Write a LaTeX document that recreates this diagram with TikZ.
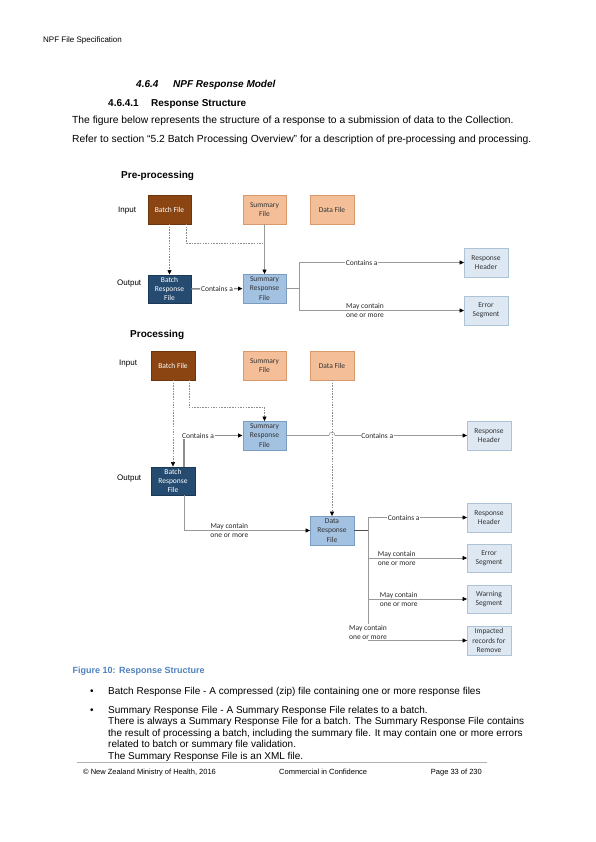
\documentclass[tikz,border=0pt]{standalone}
\usepackage{fontspec}
\setmainfont{Liberation Sans}
\newfontfamily\visfont{Carlito}
\usetikzlibrary{arrows.meta,shadows}

\definecolor{bfill}{HTML}{8A4513}
\definecolor{bdraw}{HTML}{6B350E}
\definecolor{ofill}{HTML}{F4BF98}
\definecolor{odraw}{HTML}{D8996C}
\definecolor{dfill}{HTML}{264B70}
\definecolor{ddraw}{HTML}{1B3855}
\definecolor{mfill}{HTML}{A3C1E0}
\definecolor{mdraw}{HTML}{7C9DC2}
\definecolor{sfill}{HTML}{DDE8F3}
\definecolor{sdraw}{HTML}{AFC3D6}
\definecolor{capblue}{HTML}{4F81BD}

\tikzstyle{fbox}=[shape=rectangle,
                minimum height=28.5pt,
                minimum width=43.5pt,
                inner sep=1pt,
                align=center,
                drop shadow={shadow xshift=0.7pt,shadow yshift=-0.7pt,fill=black!20},
                font=\visfont\fontsize{7.5}{9.3}\selectfont]
\tikzstyle{bfile}=[fbox,fill=bfill,draw=bdraw,text=white]
\tikzstyle{ofile}=[fbox,fill=ofill,draw=odraw,text=black!80]
\tikzstyle{rfile}=[fbox,fill=dfill,draw=ddraw,text=white]
\tikzstyle{mfile}=[fbox,fill=mfill,draw=mdraw,text=black!80]
\tikzstyle{seg}=[fbox,fill=sfill,draw=sdraw,text=black!80]
\tikzstyle{lbl}=[inner sep=0.8pt,
                align=center,
                text=black!85,
                font=\visfont\fontsize{7.5}{9}\selectfont]
\tikzstyle{lblw}=[lbl,fill=white]
\tikzstyle{txt}=[anchor=base west,inner sep=0pt,font=\fontsize{10}{11.5}\selectfont]
\tikzstyle{dl}=[draw=black!45,line width=0.5pt,dash pattern=on 1.5pt off 1.2pt]
\tikzstyle{ln}=[draw=black!40,line width=0.6pt]
\tikzstyle{dk}=[draw=black!70,line width=0.7pt]
\tikzstyle{tk}=[draw=black!45,line width=1.4pt]

\begin{document}
\begin{tikzpicture}[x=1pt,y=-1pt,>={Triangle[length=4.5pt,width=4pt,color=black]}]
\useasboundingbox (0,0) rectangle (596,842);

% page header and headings
\node[txt,font=\fontsize{8}{9}\selectfont] (hdr) at (43,43) {NPF File Specification};
\node[txt,font=\bfseries\itshape\fontsize{10}{11.5}\selectfont] (h1n) at (136,88) {4.6.4};
\node[txt,font=\bfseries\itshape\fontsize{10}{11.5}\selectfont] (h1t) at (173,88) {NPF Response Model};
\node[txt,font=\bfseries\fontsize{10}{11.5}\selectfont] (h2n) at (108,107) {4.6.4.1};
\node[txt,font=\bfseries\fontsize{10}{11.5}\selectfont] (h2t) at (151,107) {Response Structure};
\node[txt,font=\fontsize{10.3}{12}\selectfont] (p1) at (72,124) {The figure below represents the structure of a response to a submission of data to the Collection.};
\node[txt,font=\fontsize{10.3}{12}\selectfont] (p2) at (72,142.5) {Refer to section “5.2 Batch Processing Overview” for a description of pre-processing and processing.};

% pre-processing
\node[txt,font=\bfseries\fontsize{10}{11.5}\selectfont] (pre) at (121,179) {Pre-processing};
\node[txt,font=\fontsize{8}{9}\selectfont] (in1) at (118,212.5) {Input};
\node[txt,font=\fontsize{8}{9}\selectfont] (out1) at (117,285) {Output};

\node[bfile] (bf1) at (169.5,209.5) {Batch File};
\node[ofile] (sf1) at (264.5,209.5) {Summary\\File};
\node[ofile] (df1) at (332,209.5) {Data File};
\node[rfile] (brf1) at (169.5,289) {Batch\\Response\\File};
\node[mfile] (srf1) at (264.5,288.5) {Summary\\Response\\File};
\node[seg] (rh1) at (486,262.5) {Response\\Header};
\node[seg] (es1) at (486,310.5) {Error\\Segment};

\coordinate (j1) at (264.5,243);
\coordinate (f1) at (299,288.5);

\draw[dl,->] (bf1) -- (brf1);
\draw[dl] ([xshift=-5pt]bf1.south east) |- (j1);
\draw[ln,->] (sf1) -- (srf1);
\draw[tk,->] (brf1) -- node[lblw] {Contains a} (srf1);
\draw[ln] (srf1) -- (f1);
\draw[ln,->] (f1) |- node[lblw,pos=0.69] {Contains a} (rh1);
\draw[ln,->] (f1) |- node[lbl,pos=0.70] {May contain\\one or more} (es1);

% processing
\node[txt,font=\bfseries\fontsize{10}{11.5}\selectfont] (proc) at (130,337.5) {Processing};
\node[txt,font=\fontsize{8}{9}\selectfont] (in2) at (119,365) {Input};
\node[txt,font=\fontsize{8}{9}\selectfont] (out2) at (117,480) {Output};

\node[bfile] (bf2) at (173,365.5) {Batch File};
\node[ofile] (sf2) at (264.5,365.5) {Summary\\File};
\node[ofile] (df2) at (332,365.5) {Data File};
\node[mfile] (srf2) at (264.5,435.5) {Summary\\Response\\File};
\node[seg] (rh2) at (489,435.5) {Response\\Header};
\node[rfile] (brf2) at (173,481) {Batch\\Response\\File};
\node[mfile] (drf2) at (332,530.5) {Data\\Response\\File};
\node[seg] (rh3) at (489,517.5) {Response\\Header};
\node[seg] (es2) at (489,558) {Error\\Segment};
\node[seg] (ws2) at (489,599) {Warning\\Segment};
\node[seg] (ir2) at (489,640.5) {Impacted\\records for\\Remove};

\coordinate (j2) at (264.5,407);
\coordinate (hp1) at (329,435.5);
\coordinate (hp2) at (335,435.5);
\coordinate (f2) at (368,530.5);

\draw[dl,->] (bf2) -- (brf2);
\draw[dl,->] ([xshift=-6pt]bf2.south east) |- (j2) -- (srf2);
\draw[dl,->] (df2) -- (drf2);
\draw[tk,->] ([xshift=-11pt]brf2.north east) |- node[lblw,pos=0.62] {Contains a} (srf2);
\draw[ln,->] ([xshift=-11pt]brf2.south east) |- node[lbl,pos=0.68] {May contain\\one or more} (drf2);
\draw[ln,->] (srf2) -- (hp1) .. controls (329,431) and (335,431) .. (hp2)
    -- node[lblw,pos=0.32] {Contains a} (rh2);
\draw[dk] (drf2) -- (f2);
\draw[ln,->] (f2) |- node[lblw,pos=0.68] {Contains a} (rh3);
\draw[ln,->] (f2) |- node[lbl,pos=0.645] {May contain\\one or more} (es2);
\draw[ln,->] (f2) |- node[lbl,pos=0.655] {May contain\\one or more} (ws2);
\draw[ln,->] (f2) |- node[lblw,anchor=south,pos=0.5] {May contain\\one or more} (ir2);

% caption, bullets and footer
\node[txt,font=\bfseries\fontsize{9}{10.5}\selectfont,text=capblue] (cap) at (72.5,673) {Figure 10: Response Structure};
\node[txt] (bul1) at (90,694) {•};
\node[txt] (b1) at (108,694) {Batch Response File - A compressed (zip) file containing one or more response files};
\node[txt] (bul2) at (90,713) {•};
\node[txt] (b2a) at (108,713) {Summary Response File - A Summary Response File relates to a batch.};
\node[txt] (b2b) at (108,724.5) {There is always a Summary Response File for a batch. The Summary Response File contains};
\node[txt] (b2c) at (108,736) {the result of processing a batch, including the summary file. It may contain one or more errors};
\node[txt] (b2d) at (108,747.5) {related to batch or summary file validation.};
\node[txt] (b2e) at (108,759) {The Summary Response File is an XML file.};

\coordinate (rl) at (77,762);
\coordinate (rr) at (487,762);
\draw[draw=black!30,line width=0.5pt] (rl) -- (rr);
\node[txt,font=\fontsize{7.5}{9}\selectfont] (ft1) at (83,774.5) {© New Zealand Ministry of Health, 2016};
\node[txt,font=\fontsize{7.5}{9}\selectfont] (ft2) at (279,774.5) {Commercial in Confidence};
\node[txt,font=\fontsize{7.5}{9}\selectfont,anchor=base east] (ft3) at (482,774.5) {Page 33 of 230};

\end{tikzpicture}
\end{document}
